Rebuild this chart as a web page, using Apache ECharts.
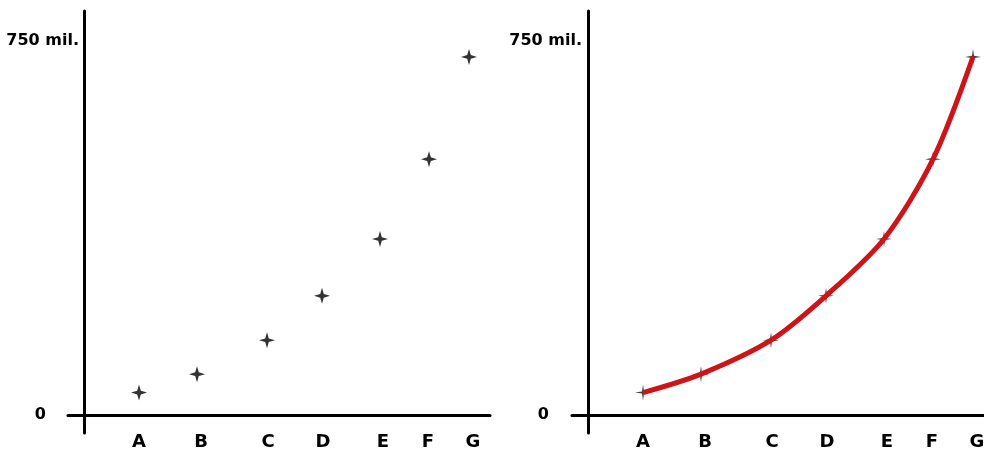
<!DOCTYPE html>
<html>
<head>
<meta charset="utf-8">
<script src="https://cdn.jsdelivr.net/npm/echarts@6/dist/echarts.min.js"></script>
<style>html,body{margin:0;padding:0;background:#fff;}#c{width:984px;height:450px;}</style>
</head>
<body>
<div id="c"></div>
<script>
// Data
var categories = ['A', 'B', 'C', 'D', 'E', 'F', 'G'];
var xPositions = [55, 113, 183, 238, 296, 345, 385];
var values = [45, 82, 150, 239, 353, 513, 718];
var labelPositions = [55, 117, 184, 239, 299, 344, 389];
var yTickValues = [0, 750];
var yTickLabels = ['0', '750 mil.'];

var pts = xPositions.map(function (x, i) { return [x, values[i]]; });

var starPath = 'path://M0,-8 L1.8,-1.8 L8,0 L1.8,1.8 L0,8 L-1.8,1.8 L-8,0 L-1.8,-1.8 Z';
var thinStar = 'path://M0,-7 L0.9,-0.9 L7,0 L0.9,0.9 L0,7 L-0.9,0.9 L-7,0 L-0.9,-0.9 Z';

function xAx(idx, max) {
  return {
    type: 'value', gridIndex: idx, min: -16, max: max,
    splitLine: { show: false },
    axisTick: { show: false },
    axisLine: { onZero: true, lineStyle: { color: '#000', width: 3 } },
    axisLabel: {
      customValues: labelPositions,
      formatter: function (v) { var i = labelPositions.indexOf(v); return i >= 0 ? categories[i] : ''; },
      color: '#000', fontFamily: 'DejaVu Sans', fontWeight: 'bold', fontSize: 18, margin: 0
    }
  };
}
function yAx(idx, m) {
  return {
    type: 'value', gridIndex: idx, min: -36, max: 810,
    splitLine: { show: false },
    axisTick: { show: false },
    axisLine: { onZero: true, lineStyle: { color: '#000', width: 3 } },
    axisLabel: {
      customValues: yTickValues,
      formatter: function (v) {
        var i = yTickValues.indexOf(v);
        if (i < 0) return '';
        return i === 0 ? '{z|' + yTickLabels[i] + '}' : yTickLabels[i];
      },
      color: '#000', fontFamily: 'DejaVu Sans', fontWeight: 'bold', fontSize: 16, margin: m,
      rich: { z: { color: '#000', fontFamily: 'DejaVu Sans', fontWeight: 'bold', fontSize: 16, padding: [0, 33, 0, 0] } }
    }
  };
}

var chart = echarts.init(document.getElementById('c'));
chart.setOption({
  animation: false,
  backgroundColor: '#fff',
  grid: [
    { left: 68, width: 422, top: 11, bottom: 17, outerBoundsMode: 'none', containLabel: false },
    { left: 572, width: 412, top: 11, bottom: 17, outerBoundsMode: 'none', containLabel: false }
  ],
  xAxis: [xAx(0, 406), xAx(1, 396)],
  yAxis: [yAx(0, -11), yAx(1, -10)],
  series: [
    {
      type: 'scatter', xAxisIndex: 0, yAxisIndex: 0, data: pts,
      symbol: starPath, symbolSize: 16, itemStyle: { color: '#000' }, z: 3
    },
    {
      type: 'scatter', xAxisIndex: 1, yAxisIndex: 1, data: pts,
      symbol: thinStar, symbolSize: 16, itemStyle: { color: '#111' }, z: 2
    },
    {
      type: 'line', xAxisIndex: 1, yAxisIndex: 1, data: pts,
      showSymbol: false, smooth: 0.3,
      lineStyle: { color: '#cf1418', width: 5 }, z: 3
    }
  ]
});
</script>
</body>
</html>
